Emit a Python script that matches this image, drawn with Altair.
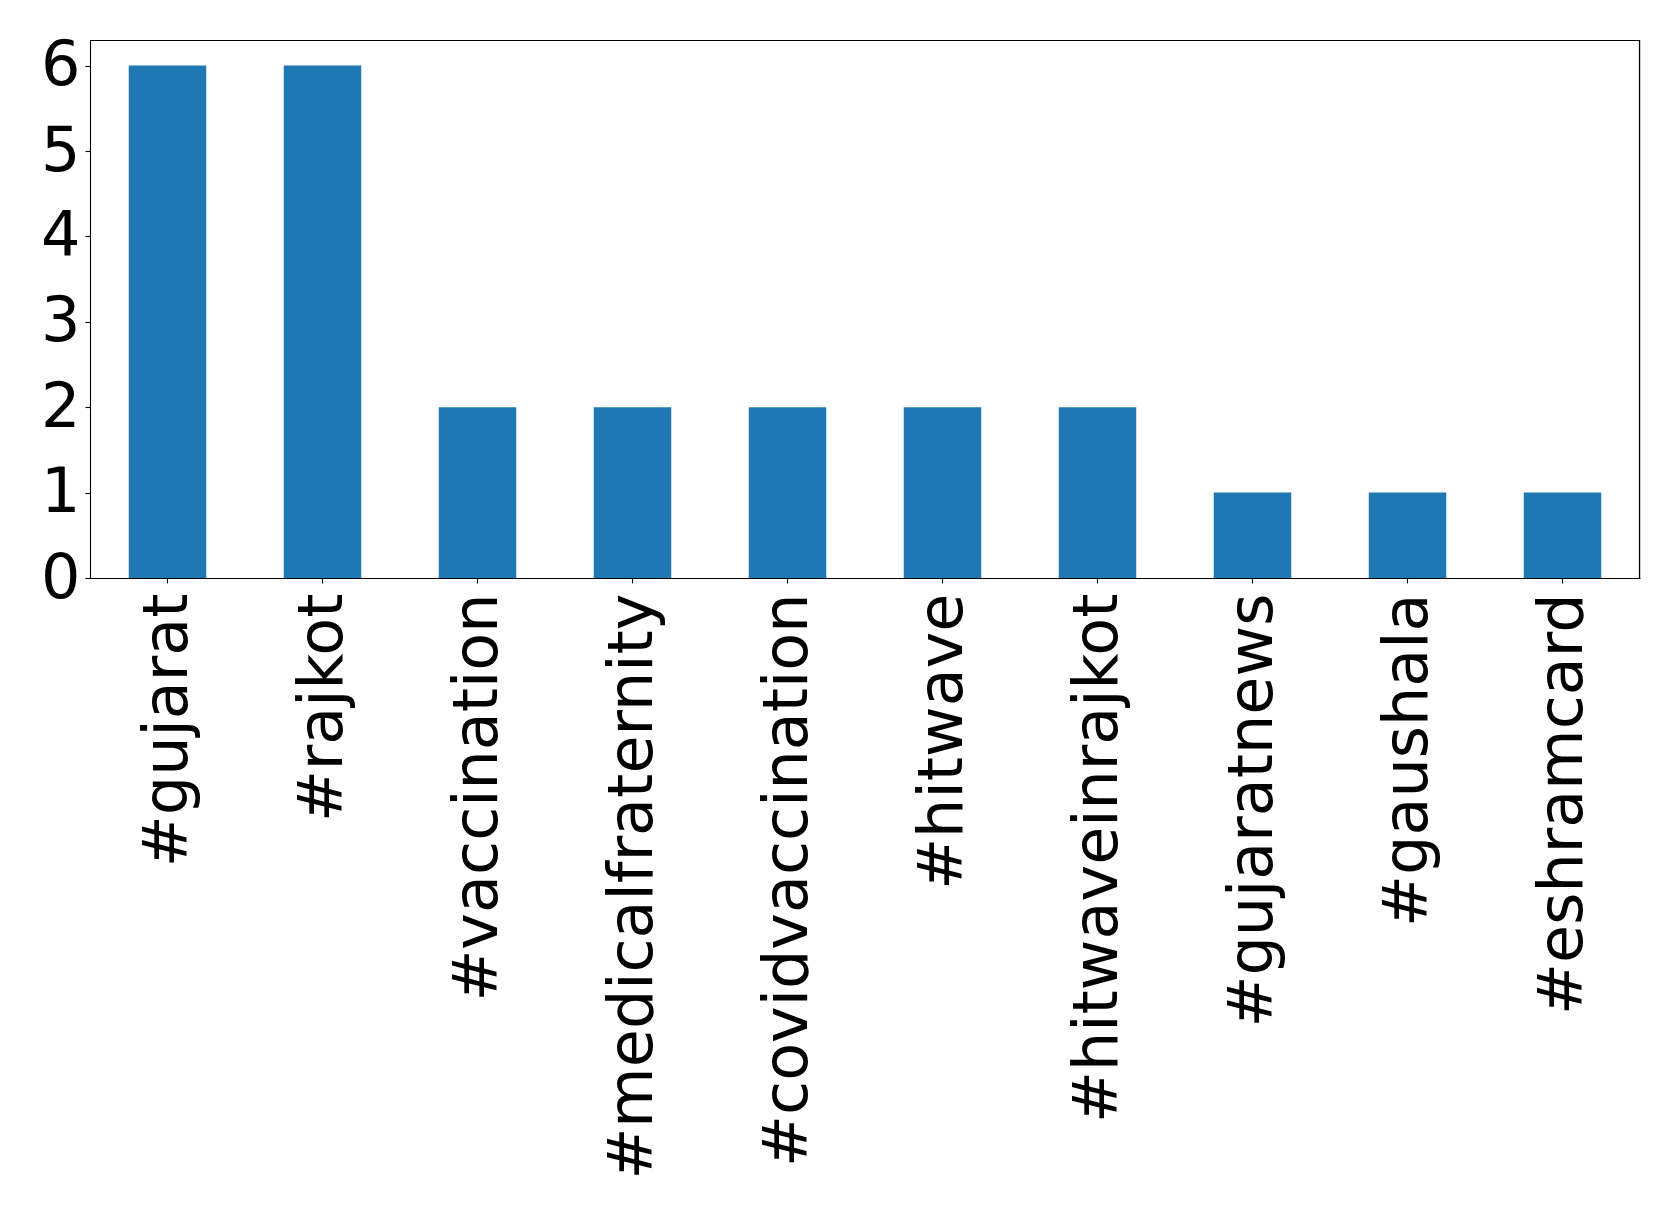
import altair as alt
import pandas as pd

tags = ["#gujarat", "#rajkot", "#vaccination", "#medicalfraternity", "#covidvaccination",
        "#hitwave", "#hitwaveinrajkot", "#gujaratnews", "#gaushala", "#eshramcard"]
counts = [6, 6, 2, 2, 2, 2, 2, 1, 1, 1]

df = pd.DataFrame({"tag": tags, "count": counts})

W, H = 1550, 538

bars = alt.Chart(df).mark_bar(color="#1f77b4").encode(
    x=alt.X("tag:N", sort=tags, title=None,
            scale=alt.Scale(paddingInner=0.5, paddingOuter=0.25),
            axis=alt.Axis(labelAngle=-90, labelFontSize=62, labelFont="DejaVu Sans",
                          labelColor="black", tickColor="black", domainColor="black",
                          tickSize=5, labelPadding=10, labelLimit=0, domainWidth=1.1,
                          tickWidth=1.1)),
    y=alt.Y("count:Q", title=None,
            scale=alt.Scale(domain=[0, 6.3], nice=False),
            axis=alt.Axis(values=[0, 1, 2, 3, 4, 5, 6], labelFontSize=62, labelFont="DejaVu Sans",
                          labelColor="black", tickColor="black", domainColor="black",
                          tickSize=5, labelPadding=5, grid=False, domainWidth=1.1,
                          tickWidth=1.1, format="d")),
)

top = alt.Chart().mark_rule(color="black", strokeWidth=1.2).encode(
    x=alt.value(0), x2=alt.value(W), y=alt.value(0.5))
right = alt.Chart().mark_rule(color="black", strokeWidth=1.2).encode(
    x=alt.value(W - 0.5), y=alt.value(0), y2=alt.value(H))

chart = alt.layer(bars, top, right).properties(
    width=W, height=H,
    autosize=alt.AutoSizeParams(type="none"),
    padding={"left": 82, "top": 32, "right": 30, "bottom": 640},
).configure_view(stroke=None).configure(background="white")

chart.save("out.html", embed_options={"renderer": "svg", "actions": False})
